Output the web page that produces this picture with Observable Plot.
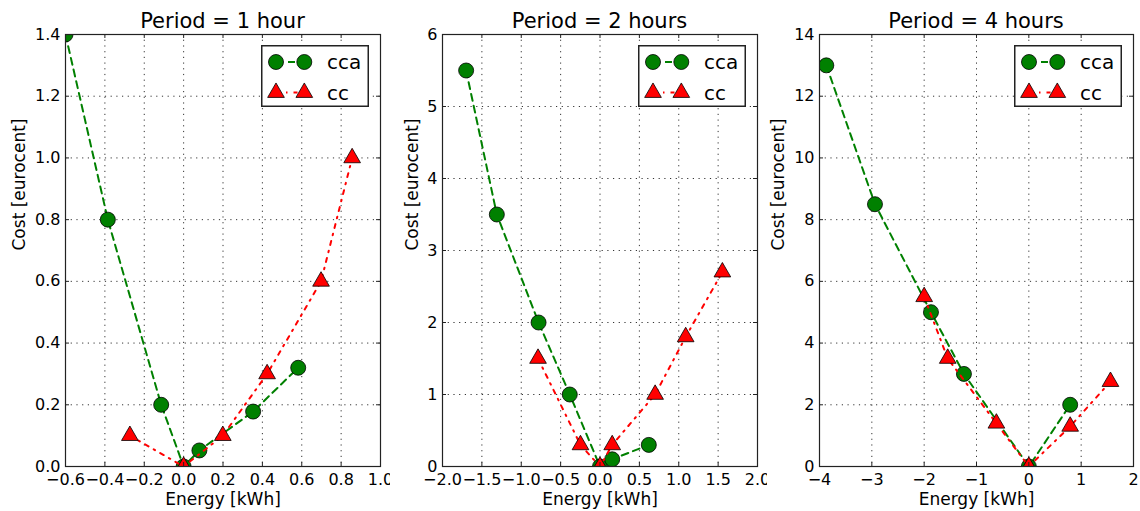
<!DOCTYPE html>
<html><head><meta charset="utf-8">
<script src="https://cdn.jsdelivr.net/npm/d3@7"></script>
<script src="https://cdn.jsdelivr.net/npm/@observablehq/plot@0.6"></script>
<style>
body{margin:0;background:#fff;font-family:"DejaVu Sans",sans-serif;}
#wrap{position:relative;width:1140px;height:511px;overflow:hidden;background:#fff;}
.panel{position:absolute;top:0;}
.title{position:absolute;top:11px;font-size:21px;line-height:21px;text-align:center;color:#000;white-space:nowrap;}
.legend{position:absolute;}
</style></head><body><div id="wrap"></div>
<script>
// ---- data ----
const titles = ["Period = 1 hour", "Period = 2 hours", "Period = 4 hours"];
const seriesNames = ["cca", "cc"];

const ccaEnergy1 = [-0.6, -0.385, -0.114, 0.0, 0.08, 0.353, 0.582];
const ccaCost1   = [1.4, 0.8, 0.2, 0.0, 0.052, 0.178, 0.32];
const ccEnergy1  = [-0.273, 0.0, 0.199, 0.424, 0.698, 0.856];
const ccCost1    = [0.1, 0.0, 0.1, 0.3, 0.6, 1.0];

const ccaEnergy2 = [-1.70, -1.31, -0.78, -0.384, 0.0, 0.155, 0.62];
const ccaCost2   = [5.5, 3.5, 2.0, 1.0, 0.0, 0.1, 0.3];
const ccEnergy2  = [-0.787, -0.248, 0.0, 0.155, 0.70, 1.088, 1.554];
const ccCost2    = [1.5, 0.3, 0.0, 0.3, 1.0, 1.8, 2.7];

const ccaEnergy4 = [-3.87, -2.94, -1.87, -1.24, 0.0, 0.79];
const ccaCost4   = [13.0, 8.5, 5.0, 3.0, 0.0, 2.0];
const ccEnergy4  = [-2.0, -1.55, -0.62, 0.0, 0.79, 1.56];
const ccCost4    = [5.5, 3.5, 1.4, 0.0, 1.3, 2.75];

const xTicks1 = [-0.6, -0.4, -0.2, 0.0, 0.2, 0.4, 0.6, 0.8, 1.0];
const yTicks1 = [0.0, 0.2, 0.4, 0.6, 0.8, 1.0, 1.2, 1.4];
const xTicks2 = [-2.0, -1.5, -1.0, -0.5, 0.0, 0.5, 1.0, 1.5, 2.0];
const yTicks2 = [0, 1, 2, 3, 4, 5, 6];
const xTicks4 = [-4, -3, -2, -1, 0, 1, 2];
const yTicks4 = [0, 2, 4, 6, 8, 10, 12, 14];

const xLabel = "Energy [kWh]";
const yLabel = "Cost [eurocent]";

// ---- layout / style ----
const H = 511, MT = 34, MB = 45;
const panels = [
  {left: 0,   width: 390, ml: 65, mr: 10, yLabelDx: -46, xt: xTicks1, yt: yTicks1, xf: d3.format(".1f"), yf: d3.format(".1f"),
   cca: ccaEnergy1.map((e, i) => ({e, c: ccaCost1[i]})), cc: ccEnergy1.map((e, i) => ({e, c: ccCost1[i]}))},
  {left: 390, width: 377, ml: 52, mr: 10, yLabelDx: -30, xt: xTicks2, yt: yTicks2, xf: d3.format(".1f"), yf: d3.format("d"),
   cca: ccaEnergy2.map((e, i) => ({e, c: ccaCost2[i]})), cc: ccEnergy2.map((e, i) => ({e, c: ccCost2[i]}))},
  {left: 767, width: 373, ml: 52, mr: 7, yLabelDx: -41, xt: xTicks4, yt: yTicks4, xf: d3.format("d"), yf: d3.format("d"),
   cca: ccaEnergy4.map((e, i) => ({e, c: ccaCost4[i]})), cc: ccEnergy4.map((e, i) => ({e, c: ccCost4[i]}))}
];

const GREEN = "#008000", RED = "#ff0000";
const greenDash = "7,5", redDash = "4,6,1.5,6";
const wrap = document.getElementById("wrap");

panels.forEach((p, k) => {
  const pw = p.width - p.ml - p.mr, ph = H - MT - MB;
  const grid = {stroke: "black", strokeOpacity: 1, strokeWidth: 0.8, strokeDasharray: "1.2,4.5"};
  const tk = {stroke: "#222", strokeWidth: 1};
  const chart = Plot.plot({
    width: p.width, height: H,
    marginLeft: p.ml, marginRight: p.mr, marginTop: MT, marginBottom: MB,
    style: {fontFamily: "DejaVu Sans", fontSize: "16px", color: "black", background: "white", overflow: "visible"},
    x: {domain: [p.xt[0], p.xt[p.xt.length - 1]]},
    y: {domain: [p.yt[0], p.yt[p.yt.length - 1]]},
    marks: [
      Plot.gridX(p.xt, grid),
      Plot.gridY(p.yt, grid),
      Plot.line(p.cca, {x: "e", y: "c", stroke: GREEN, strokeWidth: 2, strokeDasharray: greenDash, clip: true}),
      Plot.dot(p.cca, {x: "e", y: "c", r: 7.5, fill: GREEN, stroke: "black", strokeWidth: 0.8, clip: true}),
      Plot.line(p.cc, {x: "e", y: "c", stroke: RED, strokeWidth: 2, strokeDasharray: redDash, clip: true}),
      Plot.dot(p.cc, {x: "e", y: "c", symbol: "triangle", r: 6.2, fill: RED, stroke: "black", strokeWidth: 0.8, clip: true}),
      Plot.tickX(p.xt, {x: d => d, insetTop: ph - 4, ...tk}),
      Plot.tickX(p.xt, {x: d => d, insetBottom: ph - 4, ...tk}),
      Plot.tickY(p.yt, {y: d => d, insetRight: pw - 4, ...tk}),
      Plot.tickY(p.yt, {y: d => d, insetLeft: pw - 4, ...tk}),
      Plot.frame({stroke: "#222", strokeWidth: 1.2}),
      Plot.axisX(p.xt, {tickSize: 0, tickPadding: 7, tickFormat: p.xf, label: null, fontSize: 16}),
      Plot.axisY(p.yt, {tickSize: 0, tickPadding: 5, tickFormat: p.yf, label: null, fontSize: 16}),
      Plot.text([xLabel], {text: d => d, frameAnchor: "bottom", dy: 38, fontSize: 17, fill: "black"}),
      Plot.text([yLabel], {text: d => d, frameAnchor: "left", dx: p.yLabelDx, rotate: -90, fontSize: 17, fill: "black"})
    ]
  });
  const div = document.createElement("div");
  div.className = "panel";
  div.style.left = p.left + "px";
  div.appendChild(chart);
  wrap.appendChild(div);

  const t = document.createElement("div");
  t.className = "title";
  t.style.left = (p.left + p.ml) + "px";
  t.style.width = pw + "px";
  t.textContent = titles[k];
  wrap.appendChild(t);

  // legend (upper right, inside the axes)
  const LW = 108, LH = 62;
  const lx = p.left + p.width - p.mr - 11 - LW, ly = MT + 11;
  const svg = d3.select(wrap).append("svg").attr("class", "legend")
    .style("left", lx + "px").style("top", ly + "px")
    .attr("width", LW).attr("height", LH);
  svg.append("rect").attr("x", 0.75).attr("y", 0.75).attr("width", LW - 1.5).attr("height", LH - 1.5)
    .attr("fill", "white").attr("stroke", "#222").attr("stroke-width", 1.5);
  const rows = [
    {name: seriesNames[0], y: 17, color: GREEN, dash: greenDash, sym: d3.symbolCircle, r: 7.5},
    {name: seriesNames[1], y: 47.6, color: RED, dash: redDash, sym: d3.symbolTriangle, r: 6.2}
  ];
  rows.forEach(r => {
    svg.append("line").attr("x1", 15).attr("x2", 43.3).attr("y1", r.y).attr("y2", r.y)
      .attr("stroke", r.color).attr("stroke-width", 2).attr("stroke-dasharray", r.dash);
    [15, 43.3].forEach(mx => {
      svg.append("path").attr("d", d3.symbol(r.sym, Math.PI * r.r * r.r)())
        .attr("transform", `translate(${mx},${r.y})`)
        .attr("fill", r.color).attr("stroke", "black").attr("stroke-width", 0.8);
    });
    svg.append("text").attr("x", 66).attr("y", r.y).attr("dy", "0.35em")
      .attr("font-family", "DejaVu Sans").attr("font-size", 20).attr("fill", "black").text(r.name);
  });
});
</script>
</body></html>
